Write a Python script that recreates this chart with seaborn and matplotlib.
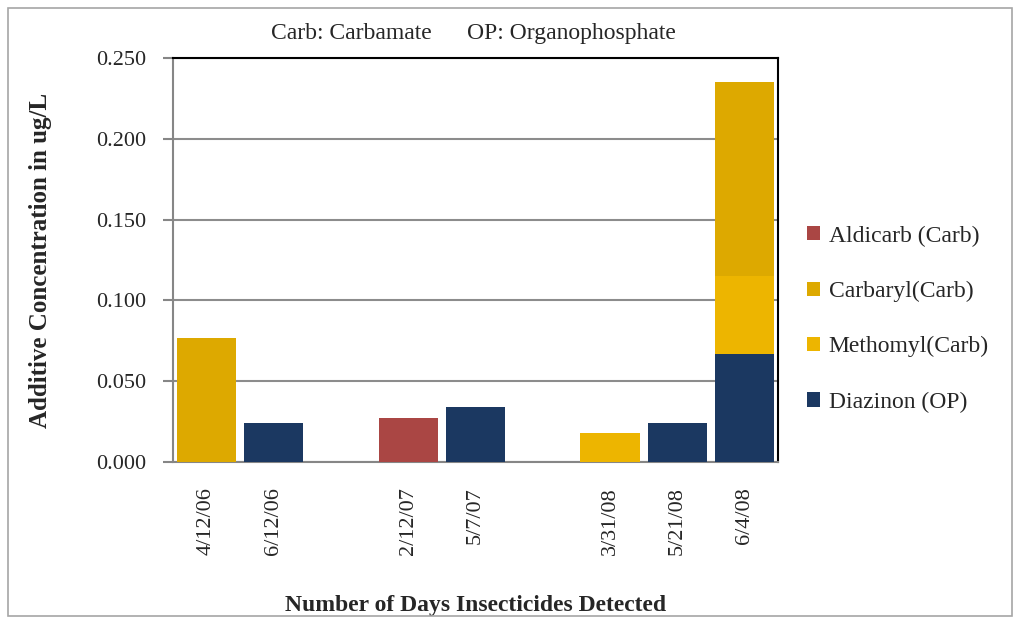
import numpy as np
import pandas as pd
import seaborn as sns
import matplotlib.pyplot as plt
from matplotlib.patches import Rectangle, Patch

# sample days (blank slots separate the years)
dates = ['4/12/06', '6/12/06', ' ', '2/12/07', '5/7/07', '  ', '3/31/08', '5/21/08', '6/4/08']

# concentrations in ug/L, one list per insecticide
diazinon = [0.000, 0.024, 0.0, 0.000, 0.034, 0.0, 0.000, 0.024, 0.067]
methomyl = [0.000, 0.000, 0.0, 0.000, 0.000, 0.0, 0.018, 0.000, 0.048]
carbaryl = [0.077, 0.000, 0.0, 0.000, 0.000, 0.0, 0.000, 0.000, 0.120]
aldicarb = [0.000, 0.000, 0.0, 0.0275, 0.000, 0.0, 0.000, 0.000, 0.000]

series = ['Aldicarb (Carb)', 'Carbaryl(Carb)', 'Methomyl(Carb)', 'Diazinon (OP)']
colors = ['#AA4644', '#DDA900', '#EDB500', '#1B3861']
yticks = [0.0, 0.05, 0.10, 0.15, 0.20, 0.25]

df = pd.DataFrame({'date': dates, 'Diazinon (OP)': diazinon, 'Methomyl(Carb)': methomyl,
                   'Carbaryl(Carb)': carbaryl, 'Aldicarb (Carb)': aldicarb})

sns.set_style('white')
plt.rcParams['font.family'] = ['Liberation Serif', 'DejaVu Serif']

fig = plt.figure(figsize=(10.2, 6.24), dpi=100)
ax = fig.add_axes([173 / 1020, 1 - 462 / 624, (778 - 173) / 1020, (462 - 58) / 624])

# stacked bars: draw cumulative totals from the top layer down
for i, s in enumerate(series):
    df['cum'] = df[series[i:]].sum(axis=1)
    sns.barplot(data=df, x='date', y='cum', order=dates, color=colors[i], saturation=1,
                width=0.88, errorbar=None, ax=ax, zorder=3, linewidth=0)

ax.set_xlim(-0.5, len(dates) - 0.5)
ax.set_ylim(0, 0.25)
ax.set_yticks(yticks)
ax.set_yticklabels(['%.3f' % v for v in yticks], fontsize=16)
ax.yaxis.grid(True, color='#8c8c8c', lw=1.5, zorder=0)
ax.set_axisbelow(True)

ax.set_xticks(range(len(dates)))
ax.set_xticklabels(dates, rotation=90, fontsize=16)
ax.set_xticks(np.arange(-0.5, len(dates)), minor=True)
ax.tick_params(axis='x', which='major', length=0, pad=18)
ax.tick_params(axis='x', which='minor', length=7, width=1.5, color='#868686', direction='out')
ax.tick_params(axis='y', length=7, width=1.5, color='#868686', direction='out', pad=12, left=True)

for side in ['left', 'bottom']:
    ax.spines[side].set_color('#868686')
    ax.spines[side].set_linewidth(1.5)
for side in ['top', 'right']:
    ax.spines[side].set_color('black')
    ax.spines[side].set_linewidth(1.5)
    ax.spines[side].set_visible(True)

ax.set_xlabel('Number of Days Insecticides Detected', fontsize=17, fontweight='bold', va='center')
ax.set_ylabel('Additive Concentration in ug/L', fontsize=18, fontweight='bold', va='center')
ax.xaxis.set_label_coords(0.5, -(605 - 462) / 404)
ax.yaxis.set_label_coords(-(173 - 40) / 605, 0.5)

fig.text(473 / 1020, 1 - 33 / 624, 'Carb: Carbamate      OP: Organophosphate', fontsize=17,
         ha='center', va='center')

handles = [Patch(facecolor=c, edgecolor='none') for c in colors]
fig.legend(handles, series, loc='upper left', bbox_to_anchor=(798 / 1020, 1 - 216 / 624),
           frameon=False, fontsize=17, handlelength=0.55, handleheight=0.55,
           handletextpad=0.35, labelspacing=1.45, borderaxespad=0)

# light outer border around the chart area
fig.patches.append(Rectangle((8 / 1020, 8 / 624), 1004 / 1020, 608 / 624, transform=fig.transFigure,
                             fill=False, edgecolor='#a6a6a6', lw=1.2))

fig.savefig('out.png', dpi=100)
